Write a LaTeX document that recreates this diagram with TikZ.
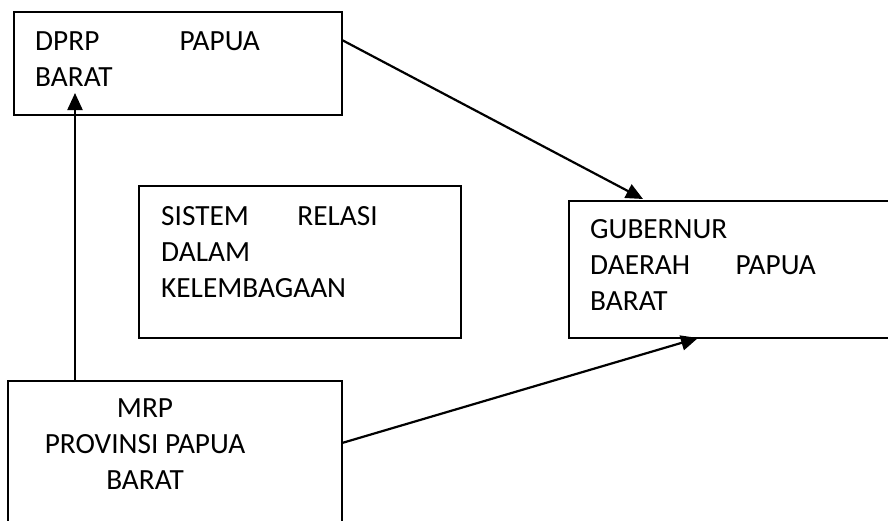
\documentclass[tikz,border=0pt]{standalone}
\usepackage{fontspec}
\setmainfont{Carlito}
\usetikzlibrary{arrows.meta}
\begin{document}
\begin{tikzpicture}[x=1pt,y=-1pt,
  box/.style={draw=black,line width=1.8pt,anchor=north west,inner sep=0pt,outer sep=0pt},
  lbl/.style={inner sep=0pt,font=\fontsize{29.3}{36}\selectfont},
  conn/.style={line width=2.2pt,-{Triangle[length=17pt,width=15pt]}}]
\fill[white] (0,0) rectangle (888,520);
\clip (0,0) rectangle (888,520);
% boxes
\node[box,minimum width=328pt,minimum height=103pt] (dprp) at (14,12) {};
\node[box,minimum width=322pt,minimum height=152pt] (sis) at (139,186) {};
\node[box,minimum width=340pt,minimum height=137pt] (gub) at (569,201) {};
\node[box,minimum width=334pt,minimum height=160pt] (mrp) at (8,381) {};
% texts
\node[lbl,anchor=base west] (t1) at (35,50) {DPRP};
\node[lbl,anchor=base east] (t2) at (260,50) {PAPUA};
\node[lbl,anchor=base west] (t3) at (35,86) {BARAT};
\node[lbl,anchor=base west] (s1) at (161,225) {SISTEM};
\node[lbl,anchor=base east] (s2) at (378,225) {RELASI};
\node[lbl,anchor=base west] (s3) at (161,261) {DALAM};
\node[lbl,anchor=base west] (s4) at (161,297) {KELEMBAGAAN};
\node[lbl,anchor=base west] (g1) at (590,238) {GUBERNUR};
\node[lbl,anchor=base west] (g2) at (590,274) {DAERAH};
\node[lbl,anchor=base east] (g3) at (816,274) {PAPUA};
\node[lbl,anchor=base west] (g4) at (590,310) {BARAT};
\node[lbl,anchor=base] (m1) at (145,417) {MRP};
\node[lbl,anchor=base] (m2) at (145,453) {PROVINSI PAPUA};
\node[lbl,anchor=base] (m3) at (145,489) {BARAT};
% connector ends
\coordinate (dprpR) at (342,40);
\coordinate (dprpIn) at (75,93);
\coordinate (gubT) at (643,199);
\coordinate (gubB) at (698,338);
\coordinate (mrpT) at (75,381);
\coordinate (mrpR) at (342,443);
\draw[conn] (dprpR) -- (gubT);
\draw[conn] (mrpT) -- (dprpIn);
\draw[conn] (mrpR) -- (gubB);
\end{tikzpicture}
\end{document}
